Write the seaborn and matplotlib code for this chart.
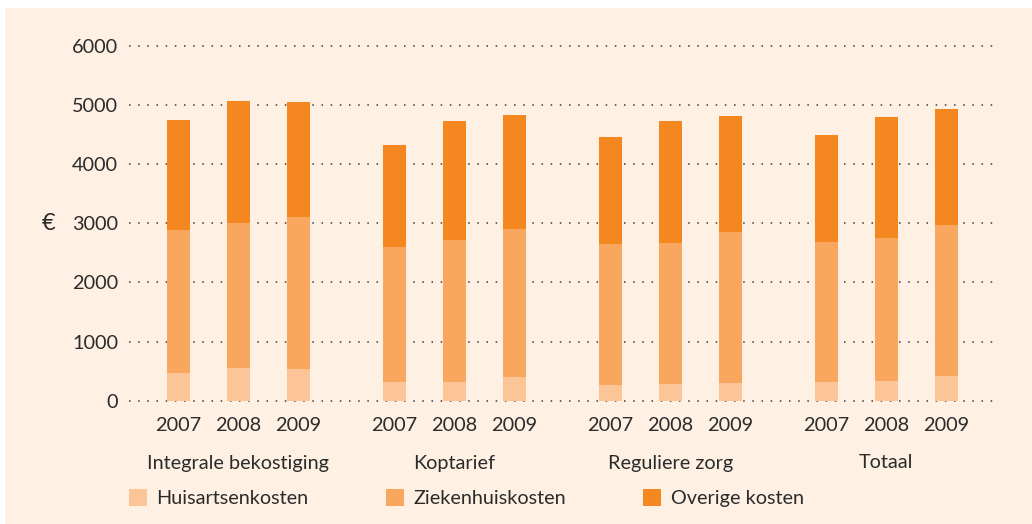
import matplotlib
matplotlib.use("Agg")
import matplotlib.pyplot as plt
import matplotlib.transforms as mtransforms
from matplotlib.patches import Rectangle, Patch
import seaborn as sns
import pandas as pd

# ---- data ----
groups = ["Integrale bekostiging", "Koptarief", "Reguliere zorg", "Totaal"]
years = ["2007", "2008", "2009"]
huisarts = [473, 558, 536, 316, 316, 400, 265, 282, 299, 316, 333, 417]
ziekenhuis = [2412, 2450, 2569, 2284, 2403, 2505, 2386, 2386, 2555, 2369, 2419, 2555]
overige = [1859, 2057, 1943, 1721, 2008, 1923, 1806, 2059, 1957, 1805, 2042, 1957]
series_names = ["Huisartsenkosten", "Ziekenhuiskosten", "Overige kosten"]
yticks = [0, 1000, 2000, 3000, 4000, 5000, 6000]

colors = ["#FBC598", "#F9A65E", "#F58720"]
bg = "#FEF0E3"
text_col = "#2B2B2B"
FS = 14.3

sns.set_theme(style="white")
plt.rcParams["font.family"] = ["Lato", "DejaVu Sans"]

W, H = 1032, 524
fig = plt.figure(figsize=(W / 100, H / 100), dpi=100, facecolor="white")
fig.patches.append(Rectangle((5 / W, 0), 1 - 5 / W, 1 - 8 / H, transform=fig.transFigure,
                             facecolor=bg, edgecolor="none", zorder=-10))

ax = fig.add_axes([129 / W, (H - 400.7) / H, (997 - 129) / W, (400.7 - 45.7) / H])
ax.set_facecolor("none")

# positions: groups of three with gaps
pos = []
for g in range(len(groups)):
    for i in range(len(years)):
        pos.append(g * 3.6 + i)

cum1 = [h for h in huisarts]
cum2 = [h + z for h, z in zip(huisarts, ziekenhuis)]
cum3 = [h + z + o for h, z, o in zip(huisarts, ziekenhuis, overige)]

df = pd.DataFrame({"pos": pos, "c1": cum1, "c2": cum2, "c3": cum3})

for col, c in zip(["c3", "c2", "c1"], colors[::-1]):
    sns.barplot(data=df, x="pos", y=col, native_scale=True, color=c, width=0.385,
                saturation=1, edgecolor="none", linewidth=0, ax=ax, zorder=3)

ax.set_xlim(-0.822, 13.645)
ax.set_ylim(0, 6000)
ax.set_yticks(yticks)
ax.set_yticklabels([str(v) for v in yticks], fontsize=FS, color=text_col)
ax.set_xticks(pos)
ax.set_xticklabels(years * len(groups), fontsize=FS, color=text_col)
ax.tick_params(axis="y", length=0, pad=8)
ax.tick_params(axis="x", length=0, pad=12)
ax.set_xlabel("")
ax.set_ylabel("€", rotation=0, fontsize=17, color=text_col, va="center", ha="center")
ax.yaxis.set_label_coords((48.4 - 129) / (997 - 129), 0.5)

for s in ax.spines.values():
    s.set_visible(False)

ax.yaxis.grid(True, color="#3a3a3a", linestyle=(0, (1, 5)), linewidth=1.1, zorder=0)
ax.set_axisbelow(True)
for gl in ax.get_ygridlines():
    gl.set_clip_on(False)

# group labels
trans = mtransforms.blended_transform_factory(ax.transData, fig.transFigure)
for g, name in enumerate(groups):
    ax.text(g * 3.6 + 1, 1 - 463 / H, name, transform=trans, ha="center", va="center",
            fontsize=FS, color=text_col)

handles = [Patch(facecolor=c, edgecolor="none") for c in colors]
leg = fig.legend(handles, series_names, loc="center left", bbox_to_anchor=(128.5 / W, 1 - 498 / H),
                 ncol=3, frameon=False, fontsize=FS, handlelength=0.91, handleheight=0.91,
                 handletextpad=0.5, columnspacing=3.88, borderpad=0, borderaxespad=0)
for t in leg.get_texts():
    t.set_color(text_col)

fig.savefig("out.png", dpi=100, facecolor=fig.get_facecolor())
